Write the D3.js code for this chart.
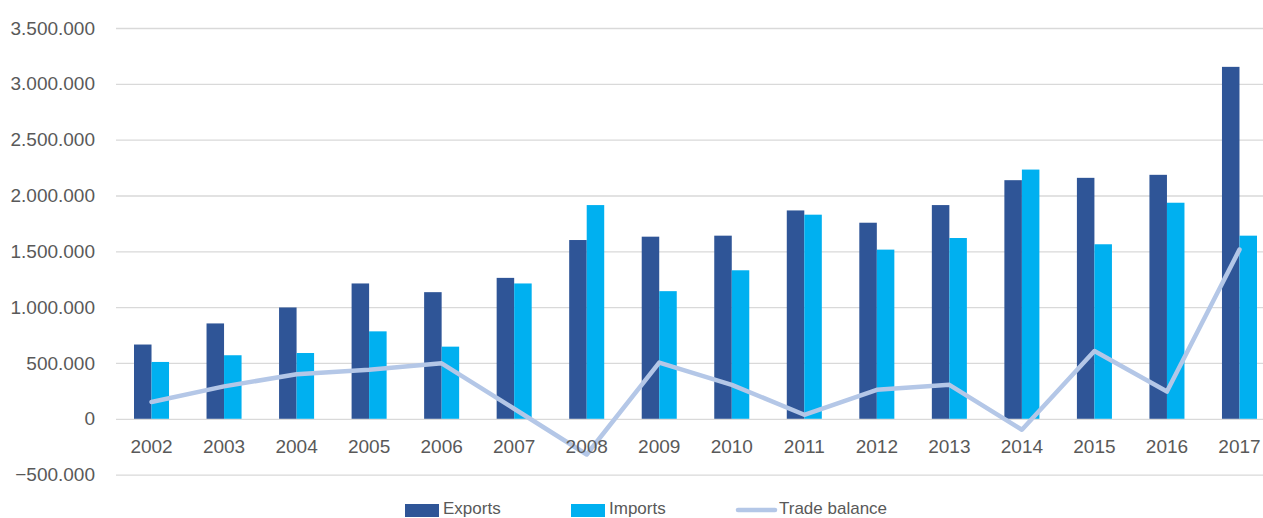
<!DOCTYPE html>
<html>
<head>
<meta charset="utf-8">
<script src="https://cdn.jsdelivr.net/npm/d3@7"></script>
<style>
  html, body { margin: 0; padding: 0; background: #ffffff; }
  svg { display: block; }
  text { font-family: "Liberation Sans", Arial, sans-serif; fill: #595959; }
</style>
</head>
<body>
<svg id="chart" width="1263" height="518"></svg>
<script>
// Annual trade figures
const years = ["2002","2003","2004","2005","2006","2007","2008","2009","2010","2011","2012","2013","2014","2015","2016","2017"];
const exportsValues = [665000, 854000, 997000, 1212000, 1134000, 1262000, 1601000, 1631000, 1640000, 1866000, 1756000, 1914000, 2137000, 2158000, 2185000, 3152000];
const importsValues = [509000, 569000, 589000, 783000, 646000, 1212000, 1914000, 1143000, 1330000, 1828000, 1515000, 1619000, 2232000, 1563000, 1935000, 1640000];
const tradeBalance = [150000, 290000, 399000, 440000, 497000, 90000, -320000, 503000, 304000, 36000, 259000, 304000, -98000, 607000, 244000, 1515000];
const yTicks = [-500000, 0, 500000, 1000000, 1500000, 2000000, 2500000, 3000000, 3500000];
const seriesNames = ["Exports", "Imports", "Trade balance"];

const colors = { exports: "#2F5597", imports: "#00B0F0", balance: "#B4C7E7", grid: "#D9D9D9" };

const svg = d3.select("#chart");
const plotLeft = 115.25, plotRight = 1275.75;

const x = d3.scaleBand()
  .domain(years)
  .range([plotLeft, plotRight])
  .paddingInner(0.517)
  .paddingOuter(0.2585);

const xSub = d3.scaleBand()
  .domain(["exports", "imports"])
  .range([0, x.bandwidth()]);

const y = d3.scaleLinear()
  .domain([-500000, 3500000])
  .range([474.6, 28]);

const locale = d3.formatLocale({ decimal: ",", thousands: ".", grouping: [3], currency: ["", ""] });
const fmt = locale.format(",d");

// Gridlines and y-axis labels
const yAxis = d3.axisLeft(y)
  .tickValues(yTicks)
  .tickFormat(fmt)
  .tickSize(-(1263 - 116))
  .tickPadding(21);

const yg = svg.append("g")
  .attr("transform", "translate(116,0)")
  .call(yAxis);
yg.select(".domain").remove();
yg.selectAll(".tick line").attr("stroke", colors.grid).attr("stroke-width", 1.3);
yg.selectAll(".tick text")
  .attr("fill", "#595959")
  .style("font-size", "19px")
  .style("font-family", "'Liberation Sans', Arial, sans-serif");

// Bars
const groups = svg.append("g").selectAll("g")
  .data(years.map((yr, i) => ({ yr, exports: exportsValues[i], imports: importsValues[i] })))
  .join("g")
  .attr("transform", d => `translate(${x(d.yr)},0)`);

groups.selectAll("rect")
  .data(d => ["exports", "imports"].map(k => ({ k, v: d[k] })))
  .join("rect")
  .attr("x", d => xSub(d.k))
  .attr("width", xSub.bandwidth())
  .attr("y", d => y(Math.max(0, d.v)))
  .attr("height", d => Math.abs(y(d.v) - y(0)))
  .attr("fill", d => colors[d.k]);

// Trade balance line
const line = d3.line()
  .x((d, i) => x(years[i]) + x.bandwidth() / 2)
  .y(d => y(d));

svg.append("path")
  .datum(tradeBalance)
  .attr("d", line)
  .attr("fill", "none")
  .attr("stroke", colors.balance)
  .attr("stroke-width", 4.5)
  .attr("stroke-linejoin", "round")
  .attr("stroke-linecap", "round");

// Category labels
svg.append("g").selectAll("text")
  .data(years)
  .join("text")
  .attr("x", d => x(d) + x.bandwidth() / 2)
  .attr("y", 453)
  .attr("text-anchor", "middle")
  .style("font-size", "19px")
  .text(d => d);

// Legend
const legend = svg.append("g");
const legendItems = [
  { name: seriesNames[0], type: "rect", color: colors.exports, x: 405 },
  { name: seriesNames[1], type: "rect", color: colors.imports, x: 571 },
  { name: seriesNames[2], type: "line", color: colors.balance, x: 738 }
];
legendItems.forEach(item => {
  if (item.type === "rect") {
    legend.append("rect")
      .attr("x", item.x).attr("y", 504)
      .attr("width", 34).attr("height", 13)
      .attr("fill", item.color);
  } else {
    legend.append("line")
      .attr("x1", item.x).attr("x2", item.x + 37)
      .attr("y1", 510).attr("y2", 510)
      .attr("stroke", item.color).attr("stroke-width", 4.5)
      .attr("stroke-linecap", "round");
  }
  legend.append("text")
    .attr("x", item.x + (item.type === "rect" ? 38 : 41))
    .attr("y", 514)
    .style("font-size", "17px")
    .text(item.name);
});
</script>
</body>
</html>
